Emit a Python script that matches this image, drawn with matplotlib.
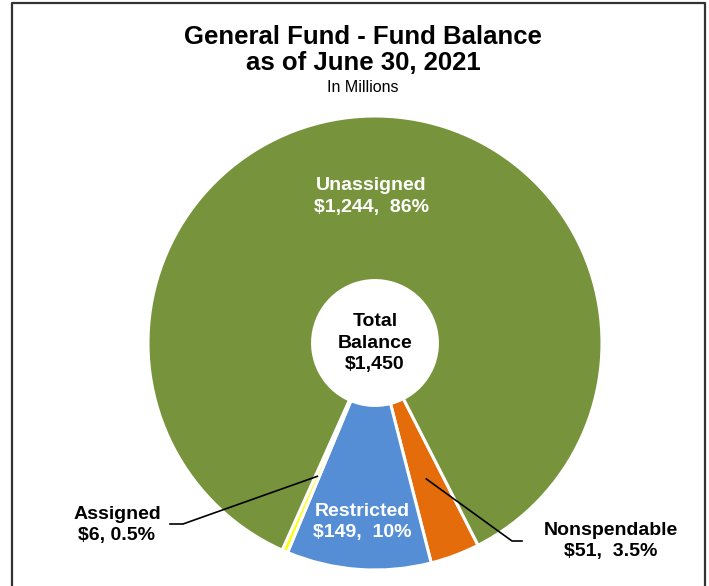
import numpy as np
import matplotlib
matplotlib.use("Agg")
import matplotlib.pyplot as plt
from matplotlib.lines import Line2D

plt.rcParams["font.family"] = ["Liberation Sans", "DejaVu Sans"]

# ── data (in millions) ──
categories = ["Nonspendable", "Restricted", "Assigned", "Unassigned"]
values = [51, 149, 6, 1244]
pct_labels = ["3.5%", "10%", "0.5%", "86%"]
value_labels = ["$51", "$149", "$6", "$1,244"]
colors = ["#E46C0A", "#558ED5", "#FFFF00", "#77933C"]
total_label = "$1,450"

fig = plt.figure(figsize=(7.09, 5.86), dpi=100)
W, H = 709, 586

# frame around the chart area (bottom edge is cut off in the original)
frame_x = [12 / W, 12 / W, 705 / W, 705 / W]
frame_y = [0.0, 1 - 3 / H, 1 - 3 / H, 0.0]
fig.add_artist(Line2D(frame_x, frame_y, color="#333333", lw=1.6, transform=fig.transFigure))

# donut axes: centre (375, 343) px, radius 227 px
cx, cy, R = 375, 343, 227
ax = fig.add_axes([(cx - R) / W, (H - cy - R) / H, 2 * R / W, 2 * R / H])

hole = 0.275
wedges, _ = ax.pie(values, colors=colors, startangle=-63, counterclock=False,
                   radius=1, wedgeprops=dict(width=1 - hole, edgecolor="white", linewidth=2.2))
ax.set_xlim(-1, 1)
ax.set_ylim(-1, 1)
ax.set_aspect("equal")
ax.axis("off")


def mid_angle(w):
    return np.deg2rad((w.theta1 + w.theta2) / 2)


def polar(r, a):
    return r * np.cos(a), r * np.sin(a)


bold = dict(fontweight="bold", fontsize=14, ha="center", va="center", linespacing=1.35)

# labels inside the ring
for i, r in [(3, 0.645), (1, 0.79)]:
    x, y = polar(r, mid_angle(wedges[i]))
    ax.text(x, y, f"{categories[i]}\n{value_labels[i]},  {pct_labels[i]}", color="white", **bold)

# centre
ax.text(0, 0, f"Total\nBalance\n{total_label}", color="black", **bold)

# Assigned (leader line to the left)
a = mid_angle(wedges[2])
x0, y0 = polar(0.64, a)
ax.plot([x0, (183 - cx) / R, (170 - cx) / R], [y0, (cy - 524) / R, (cy - 524) / R],
        color="black", lw=1.2, clip_on=False)
ax.text((117 - cx) / R, (cy - 525) / R, f"{categories[2]}\n{value_labels[2]}, {pct_labels[2]}",
        color="black", **bold)

# Nonspendable (leader line to the right)
a = mid_angle(wedges[0])
x0, y0 = polar(0.64, a)
ax.plot([x0, (512 - cx) / R, (522 - cx) / R], [y0, (cy - 541) / R, (cy - 541) / R],
        color="black", lw=1.2, clip_on=False)
ax.text((611 - cx) / R, (cy - 541) / R, f"{categories[0]}\n{value_labels[0]},  {pct_labels[0]}",
        color="black", **bold)

# titles
fig.text(363 / W, 1 - 44 / H, "General Fund - Fund Balance", ha="center", va="baseline",
         fontsize=18.5, fontweight="bold")
fig.text(363 / W, 1 - 70 / H, "as of June 30, 2021", ha="center", va="baseline",
         fontsize=18.5, fontweight="bold")
fig.text(363 / W, 1 - 92 / H, "In Millions", ha="center", va="baseline", fontsize=11.5)

fig.savefig("out.png", dpi=100)
